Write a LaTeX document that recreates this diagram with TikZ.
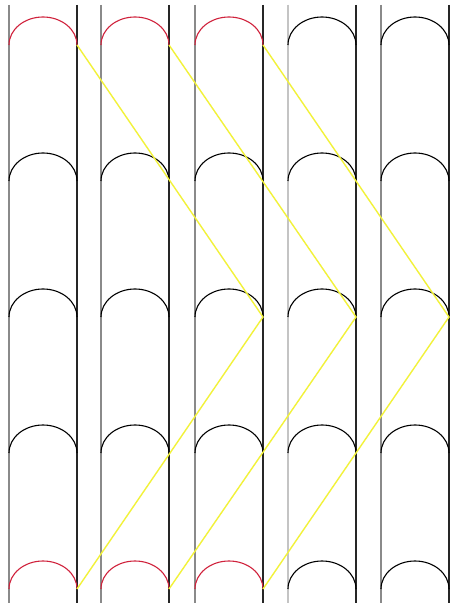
\documentclass[tikz,border=0pt]{standalone}
\usepackage{xcolor}
\usepackage{tikz}
\usetikzlibrary{calc}
\definecolor{wallGrey}{HTML}{8A8A8A}
\definecolor{paleGrey}{HTML}{C4C4C4}
\definecolor{domeRed}{HTML}{D0223C}
\definecolor{rayYellow}{HTML}{F2F23A}
\tikzset{
  lwall/.style  = {draw=wallGrey, line width=1.1pt},
  rwall/.style  = {draw=black!85, line width=1.2pt},
  dome/.style   = {draw=black, line width=1.1pt},
  reddome/.style= {draw=domeRed, line width=1.1pt},
  ray/.style    = {draw=rayYellow, line width=1.4pt, line join=miter}
}

\begin{document}
\begin{tikzpicture}[x=1pt, y=1pt]
  \useasboundingbox[fill=white] (0,0) rectangle (472,603);

  % tubes: left wall x, width 68
  \foreach \c/\x in {1/9, 2/101, 3/195, 4/288, 5/381} {
    \draw[lwall] (\x,598) -- (\x,0);
    \draw[rwall] (\x+68,598) -- (\x+68,0);
    \foreach \r/\y in {1/558, 2/422, 3/286, 4/150, 5/14} {
      \coordinate (r\c-\r) at (\x+68,\y);
    }
  }
  \draw[lwall, draw=paleGrey] (288,598) -- (288,0);

  % domes on each tube
  \foreach \c/\x in {1/9, 2/101, 3/195, 4/288, 5/381}
    \foreach \r/\y in {1/558, 2/422, 3/286, 4/150, 5/14} {
      \pgfmathsetmacro{\hot}{(\c<4)*((\r==1)+(\r==5))}
      \ifdim\hot pt>0pt
        \draw[reddome] (\x,\y) arc[start angle=180, end angle=0, x radius=34, y radius=28];
      \else
        \draw[dome] (\x,\y) arc[start angle=180, end angle=0, x radius=34, y radius=28];
      \fi
    }

  % bouncing rays
  \draw[ray] (r1-1) -- (r3-3) -- (r1-5);
  \draw[ray] (r2-1) -- (r4-3) -- (r2-5);
  \draw[ray] (r3-1) -- (r5-3) -- (r3-5);
\end{tikzpicture}
\end{document}
